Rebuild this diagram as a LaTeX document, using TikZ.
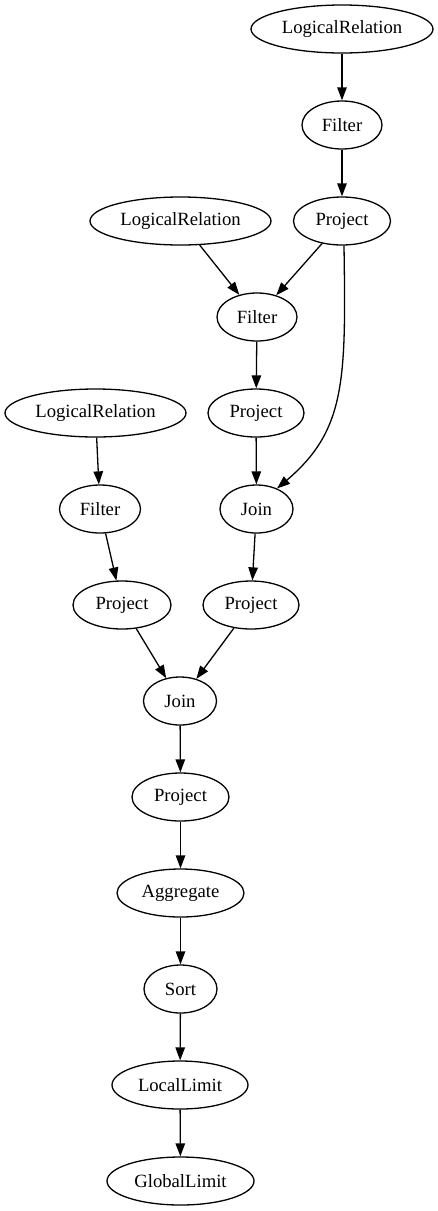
\documentclass[tikz,border=0pt]{standalone}
\usepackage{fontspec}
\setmainfont{Liberation Serif}
\usetikzlibrary{shapes.geometric,arrows.meta}
\begin{document}
\begin{tikzpicture}[x=1pt,y=-1pt,
  nd/.style={ellipse,draw,line width=1.3pt,inner sep=0pt,minimum height=48pt,
    font=\fontsize{18.67}{22}\selectfont},
  ed/.style={line width=1.3pt,-{Triangle[length=13pt,width=9.5pt]}}]
\useasboundingbox (0,0) rectangle (438,1211);
\node[nd,minimum width=182pt] (lr1) at (342,29) {LogicalRelation};
\node[nd,minimum width=80pt] (f1) at (342,125) {Filter};
\node[nd,minimum width=97pt] (p1) at (342,221) {Project};
\node[nd,minimum width=181pt] (lr2) at (180.5,221) {LogicalRelation};
\node[nd,minimum width=80pt] (f2) at (257,317) {Filter};
\node[nd,minimum width=96pt] (p2) at (256,413) {Project};
\node[nd,minimum width=181pt] (lr3) at (95.5,413) {LogicalRelation};
\node[nd,minimum width=81pt] (f3) at (100,509) {Filter};
\node[nd,minimum width=73pt] (j1) at (256.5,509) {Join};
\node[nd,minimum width=98pt] (p3) at (122,605) {Project};
\node[nd,minimum width=96pt] (p4) at (251,605) {Project};
\node[nd,minimum width=73pt] (j2) at (180,701) {Join};
\node[nd,minimum width=97pt] (p5) at (180.5,797) {Project};
\node[nd,minimum width=127pt] (ag) at (180.5,893) {Aggregate};
\node[nd,minimum width=73pt] (so) at (180.5,989) {Sort};
\node[nd,minimum width=136pt] (ll) at (180,1085) {LocalLimit};
\node[nd,minimum width=147pt] (gl) at (180.5,1181) {GlobalLimit};
\draw[ed] (lr1) -- (f1);
\draw[ed] (f1) -- (p1);
\draw[ed] (lr2) -- (f2);
\draw[ed] (p1) -- (f2);
\draw[ed] (f2) -- (p2);
\draw[ed] (p2) -- (j1);
\draw[ed] ([xshift=2pt]p1.south) .. controls (346,380) and (346,430) .. (j1.45);
\draw[ed] (lr3) -- (f3);
\draw[ed] (f3) -- (p3);
\draw[ed] (j1) -- (p4);
\draw[ed] (p3) -- (j2);
\draw[ed] (p4) -- (j2);
\draw[ed] (j2) -- (p5);
\draw[ed] (p5) -- (ag);
\draw[ed] (ag) -- (so);
\draw[ed] (so) -- (ll);
\draw[ed] (ll) -- (gl);
\end{tikzpicture}
\end{document}
